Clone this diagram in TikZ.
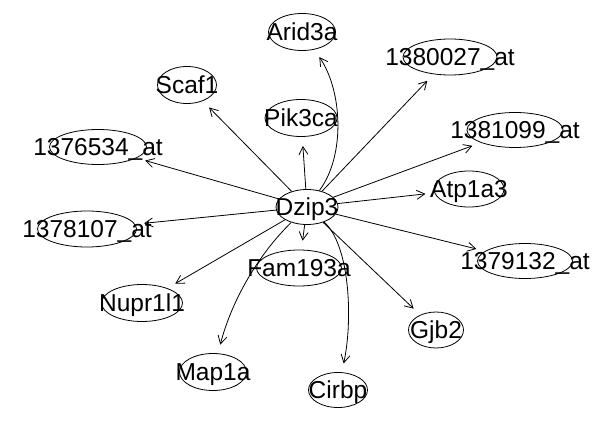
\documentclass[tikz,border=0pt]{standalone}
\usepackage{fontspec}
\newfontfamily\gfont{Liberation Sans}
\usetikzlibrary{shapes.geometric,arrows.meta}
\begin{document}
\begin{tikzpicture}[x=1pt,y=-1pt,
  gnode/.style={draw, ellipse, inner sep=0pt, line width=0.8pt, minimum height=36pt},
  every label/.style={font={\gfont\fontsize{24.5}{28}\selectfont}, text height=17.5pt, text depth=0pt, inner sep=0pt},
  conn/.style={-{Straight Barb[length=8pt,width=9pt]}, line width=0.8pt, shorten >=9pt}]
\useasboundingbox (0,0) rectangle (612,422);
\fill[white] (0,0) rectangle (612,422);
\node[gnode, minimum width=62pt, minimum height=35pt, label={center:Dzip3}] (dz) at (307,207) {};
\node[gnode, minimum width=67pt, minimum height=37pt, label={center:Arid3a}] (arid) at (302,32) {};
\node[gnode, minimum width=59pt, minimum height=37pt, label={center:Scaf1}] (scaf) at (187,85) {};
\node[gnode, minimum width=72pt, minimum height=37pt, label={center:Pik3ca}] (pik) at (301,118) {};
\node[gnode, minimum width=94pt, label={center:1380027\_at}] (a80027) at (450,57) {};
\node[gnode, minimum width=97pt, minimum height=35pt, label={center:1376534\_at}] (a76534) at (98,147) {};
\node[gnode, minimum width=96pt, minimum height=35pt, label={center:1381099\_at}] (a81099) at (515,130) {};
\node[gnode, minimum width=70pt, label={center:Atp1a3}] (atp) at (469,189) {};
\node[gnode, minimum width=99pt, label={center:1378107\_at}] (a78107) at (87,229) {};
\node[gnode, minimum width=95pt, minimum height=35pt, label={center:1379132\_at}] (a79132) at (525,261) {};
\node[gnode, minimum width=85pt, label={center:Fam193a}] (fam) at (299,268) {};
\node[gnode, minimum width=81pt, minimum height=37pt, label={center:Nupr1l1}] (nupr) at (142,303) {};
\node[gnode, minimum width=67pt, minimum height=37pt, label={center:Map1a}] (map) at (213,372) {};
\node[gnode, minimum width=59pt, minimum height=35pt, label={center:Cirbp}] (cirbp) at (338,390) {};
\node[gnode, minimum width=55pt, label={center:Gjb2}] (gjb) at (436,330) {};
\draw[conn] (dz) .. controls (346,155) and (342,90) .. (arid);
\draw[conn] (dz) -- (scaf);
\draw[conn] (dz) -- (pik);
\draw[conn] (dz) -- (a80027);
\draw[conn] (dz) -- (a76534);
\draw[conn] (dz) -- (a81099);
\draw[conn] (dz) -- (atp);
\draw[conn] (dz) -- (a78107);
\draw[conn] (dz) -- (a79132);
\draw[conn] (dz) -- (fam);
\draw[conn] (dz) -- (nupr);
\draw[conn] (dz) .. controls (258,255) and (232,300) .. (map);
\draw[conn] (dz) .. controls (350,245) and (353,320) .. (cirbp);
\draw[conn] (dz) -- (gjb);
\end{tikzpicture}
\end{document}
